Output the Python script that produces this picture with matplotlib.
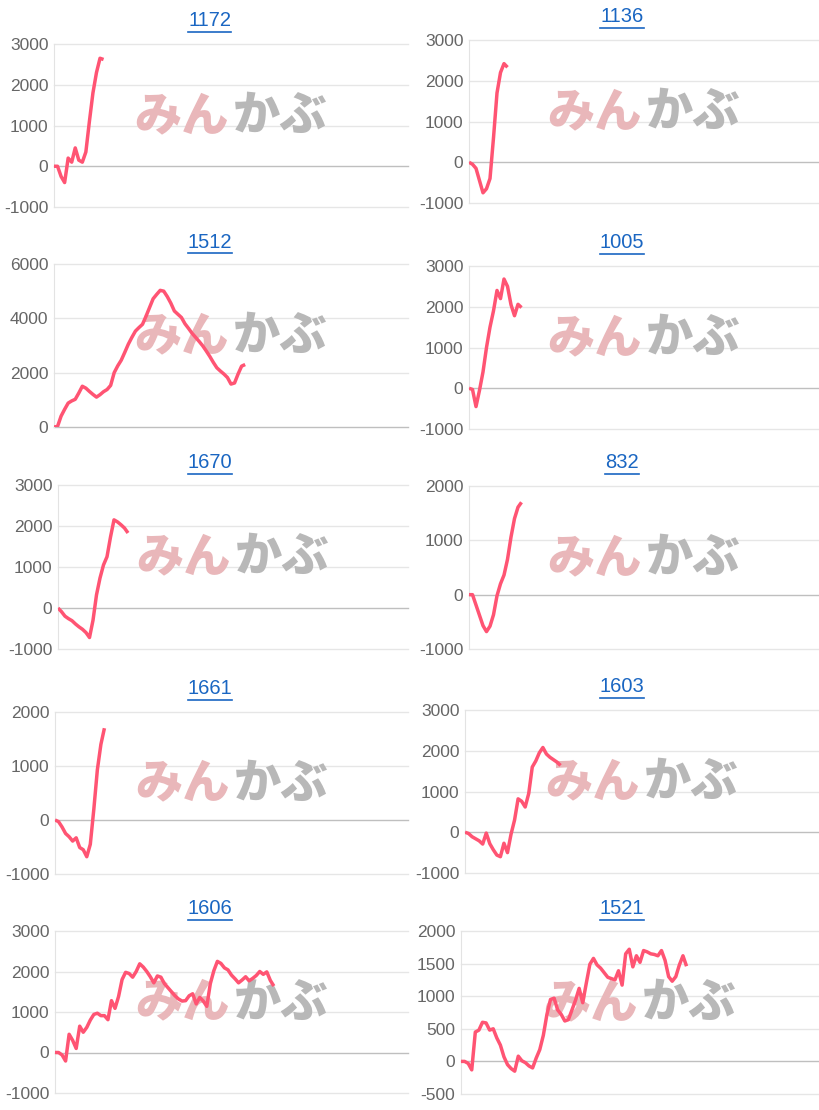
import matplotlib
matplotlib.use("Agg")
import matplotlib.pyplot as plt
from matplotlib.lines import Line2D

# stock codes shown as panel titles
codes = ["1172", "1136", "1512", "1005", "1670", "832", "1661", "1603", "1606", "1521"]

# cumulative P/L series (one value per step)
s1172 = [0, 0, -250, -400, 200, 100, 450, 150, 100, 350, 1100, 1800, 2300, 2650, 2620]
s1136 = [0, -50, -150, -450, -750, -650, -400, 600, 1700, 2200, 2420, 2330]
s1512 = [0, 20, 400, 650, 880, 960, 1020, 1250, 1500, 1430, 1310, 1200, 1100, 1190,
         1300, 1380, 1530, 2000, 2250, 2460, 2750, 3050, 3300, 3530, 3660, 3780, 4080,
         4400, 4720, 4880, 5030, 5000, 4800, 4560, 4270, 4150, 4030, 3800, 3630, 3450,
         3300, 3150, 2990, 2800, 2600, 2380, 2180, 2060, 1950, 1820, 1580, 1620, 1950,
         2240, 2300]
s1005 = [0, -30, -450, -50, 400, 1000, 1500, 1900, 2400, 2200, 2680, 2500, 2050,
         1780, 2060, 1980]
s1670 = [0, -90, -200, -260, -310, -390, -460, -520, -600, -720, -300, 320, 730, 1050,
         1250, 1730, 2150, 2100, 2030, 1950, 1830]
s832 = [0, 0, -190, -380, -570, -680, -580, -370, -20, 200, 360, 650, 1060, 1400,
        1610, 1700]
s1661 = [0, -30, -130, -250, -310, -390, -330, -510, -550, -680, -450, 200, 930, 1400,
         1700]
s1603 = [0, -30, -110, -160, -210, -290, -20, -280, -430, -560, -600, -270, -500, -50,
         300, 820, 760, 620, 950, 1600, 1750, 1950, 2080, 1920, 1840, 1780, 1720, 1640]
s1606 = [0, 0, -60, -210, 450, 300, 100, 650, 500, 620, 800, 940, 970, 910, 910, 810,
         1280, 1090, 1380, 1800, 1980, 1950, 1860, 2000, 2190, 2110, 2000, 1870, 1720,
         1890, 1860, 1700, 1600, 1500, 1400, 1320, 1270, 1280, 1400, 1450, 1200, 1360,
         1270, 1140, 1700, 2020, 2250, 2200, 2090, 2040, 1910, 1820, 1720, 1790, 1870,
         1770, 1830, 1900, 2000, 1930, 1990, 1780, 1640]
s1521 = [0, 0, -30, -130, 450, 480, 600, 590, 480, 500, 360, 250, 70, -50, -110, -150,
         80, 10, -20, -70, -100, 50, 180, 400, 720, 950, 970, 790, 720, 620, 640, 790,
         940, 1120, 900, 1200, 1490, 1580, 1480, 1430, 1360, 1290, 1270, 1250, 1390,
         1170, 1650, 1720, 1450, 1620, 1520, 1700, 1680, 1650, 1640, 1620, 1700, 1550,
         1300, 1230, 1300, 1480, 1620, 1460]
series = [s1172, s1136, s1512, s1005, s1670, s832, s1661, s1603, s1606, s1521]

# y tick values of each panel
ticks = [
    [-1000, 0, 1000, 2000, 3000],
    [-1000, 0, 1000, 2000, 3000],
    [0, 2000, 4000, 6000],
    [-1000, 0, 1000, 2000, 3000],
    [-1000, 0, 1000, 2000, 3000],
    [-1000, 0, 1000, 2000],
    [-1000, 0, 1000, 2000],
    [-1000, 0, 1000, 2000, 3000],
    [-1000, 0, 1000, 2000, 3000],
    [-500, 0, 500, 1000, 1500, 2000],
]

# panel boxes in pixels: left, top, right, bottom, title y
boxes = [
    (54, 44, 408, 207, 21), (469, 40, 819, 203, 17),
    (54, 264, 408, 427, 242), (469, 266, 819, 429, 243),
    (58, 485, 408, 649, 463), (469, 486, 819, 649, 463),
    (55, 712, 408, 874, 689), (465, 710, 819, 873, 687),
    (55, 931, 408, 1093, 909), (461, 931, 819, 1094, 909),
]

W, H = 820, 1110
line_color = "#ff5473"
plt.rcParams["font.family"] = ["Liberation Sans", "DejaVu Sans"]

fig = plt.figure(figsize=(W / 100, H / 100), dpi=100)

titles = []
for i, code in enumerate(codes):
    l, t, r, b, ty = boxes[i]
    ax = fig.add_axes([l / W, 1 - b / H, (r - l) / W, (b - t) / H])
    ax.set_facecolor("none")
    y = series[i]
    ax.plot(range(len(y)), y, color=line_color, lw=2.5, zorder=4,
            solid_joinstyle="round", solid_capstyle="butt")
    ax.set_xlim(0, 100)
    ax.set_ylim(ticks[i][0], ticks[i][-1])
    ax.set_yticks(ticks[i])
    ax.set_yticklabels([str(v) for v in ticks[i]])
    ax.set_xticks([])
    ax.tick_params(axis="y", length=0, pad=4, labelsize=12.5, labelcolor="#666666")
    for v in ticks[i]:
        ax.axhline(v, color="#bfbfbf" if v == 0 else "#e6e6e6", lw=1, zorder=1,
                   clip_on=False)
    for side in ["top", "right", "bottom"]:
        ax.spines[side].set_visible(False)
    ax.spines["left"].set_color("#e3e3e3")

    # watermark logo
    off = 2 / (r - l)
    ax.text(0.5 - off, 0.56, "みん", transform=ax.transAxes, ha="right", va="center",
            fontsize=34, fontweight="heavy", color="#e9b7ba",
            family=["Noto Sans CJK JP", "DejaVu Sans"], zorder=2)
    ax.text(0.5 + off, 0.56, "かぶ", transform=ax.transAxes, ha="left", va="center",
            fontsize=34, fontweight="heavy", color="#b8b8b8",
            family=["Noto Sans CJK JP", "DejaVu Sans"], zorder=2)

    cx = 210 if i % 2 == 0 else 622
    tt = fig.text(cx / W, 1 - ty / H, code, ha="center", va="center",
                  fontsize=14.5, color="#1a66c2")
    titles.append(tt)

# underline the titles like links
fig.canvas.draw()
renderer = fig.canvas.get_renderer()
for tt in titles:
    bb = tt.get_window_extent(renderer)
    y0 = (bb.y0 - 1) / H
    fig.add_artist(Line2D([bb.x0 / W, bb.x1 / W], [y0, y0], color="#1a66c2",
                          lw=1.2, transform=fig.transFigure))

fig.savefig("out.png", dpi=100, facecolor="white")
